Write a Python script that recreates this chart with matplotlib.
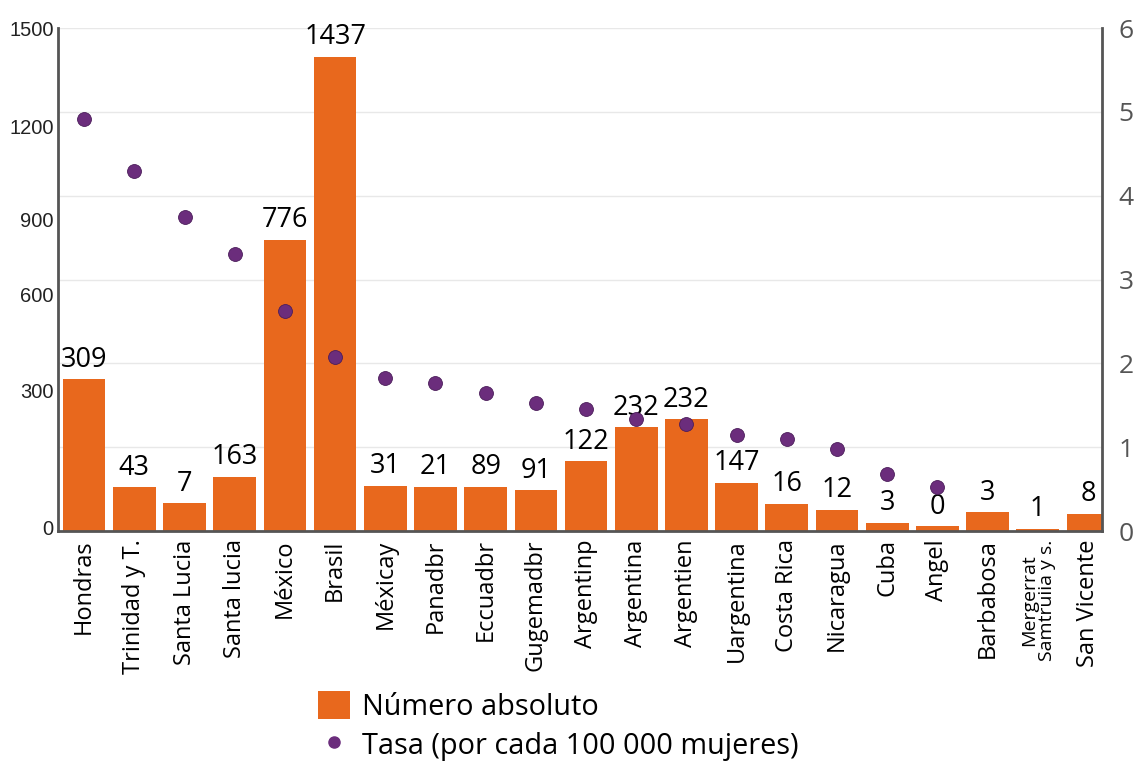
import numpy as np
import matplotlib
matplotlib.use("Agg")
import matplotlib.pyplot as plt
from matplotlib.patches import Patch
from matplotlib.lines import Line2D

plt.rcParams['font.family'] = ['Open Sans', 'DejaVu Sans']

paises = ["Hondras", "Trinidad y T.", "Santa Lucia", "Santa lucia", "México", "Brasil",
          "Méxicay", "Panadbr", "Eccuadbr", "Gugemadbr", "Argentinp", "Argentina",
          "Argentien", "Uargentina", "Costa Rica", "Nicaragua", "Cuba", "Angel",
          "Barbabosa", "Mergerrat\nSamtruiia y s.", "San Vicente"]
# bar heights as drawn (left axis), labels as printed
alturas = [452, 130, 83, 161, 868, 1414, 135, 132, 132, 122, 208, 309,
           333, 144, 81, 64, 25, 14, 56, 7, 52]
etiquetas = ["309", "43", "7", "163", "776", "1437", "31", "21", "89", "91", "122", "232",
             "232", "147", "16", "12", "3", "0", "3", "1", "8"]
tasa = [4.91, 4.29, 3.75, 3.31, 2.62, 2.08, 1.83, 1.77, 1.65, 1.53, 1.46, 1.34,
        1.28, 1.15, 1.10, 0.98, 0.68, 0.53, np.nan, np.nan, np.nan]
izq_pos = [10, 420, 705, 930, 1205, 1500]
izq_txt = ["0", "300", "600", "900", "1200", "1500"]

naranja = "#E8681D"
morado = "#6B2D7C"
gris = "#555555"

fig = plt.figure(figsize=(11.4, 7.61), dpi=100)
ax = fig.add_axes([0.0509, 0.3022, 0.9158, 0.661])
x = np.arange(len(paises))

for k in range(1, 7):
    ax.axhline(250 * k, color="#e8e8e8", lw=1, zorder=0)

ax.bar(x, alturas, width=0.85, color=naranja, zorder=2)
for xi, h, t in zip(x, alturas, etiquetas):
    ax.annotate(t, (xi, h), xytext=(0, 4), textcoords="offset points",
                ha="center", va="bottom", fontsize=19.5, color="black")

ax.set_xlim(-0.52, 20.28)
ax.set_ylim(0, 1500)
ax.set_yticks(izq_pos)
ax.set_yticklabels(izq_txt, family="Liberation Sans", fontsize=14.5, color="#222222")
ax.set_xticks(x)
ax.set_xticklabels(paises, rotation=90, fontsize=17, va="top", ha="center")
for lab in ax.get_xticklabels():
    if "\n" in lab.get_text():
        lab.set_fontsize(14)
        lab.set_linespacing(1.0)
ax.tick_params(length=0, pad=6)
ax.tick_params(axis="y", pad=3)
for s in ["top", "right"]:
    ax.spines[s].set_visible(False)
for s in ["left", "bottom"]:
    ax.spines[s].set_color(gris)
    ax.spines[s].set_linewidth(2)

ax2 = ax.twinx()
ax2.plot(x, tasa, "o", color=morado, markersize=10, markeredgecolor="#4b1d5a",
         markeredgewidth=0.6, zorder=3)
ax2.set_ylim(0, 6)
ax2.set_yticks(range(7))
ax2.tick_params(length=0, pad=12, labelsize=19, labelcolor=gris)
for s in ["top", "left", "bottom"]:
    ax2.spines[s].set_visible(False)
ax2.spines["right"].set_color(gris)
ax2.spines["right"].set_linewidth(2)

handles = [Patch(facecolor=naranja, edgecolor="none", label="Número absoluto"),
           Line2D([], [], marker="o", ls="none", color=morado, markersize=8,
                  label="Tasa (por cada 100 000 mujeres)")]
fig.legend(handles=handles, loc="upper left", bbox_to_anchor=(0.269, 0.107),
           frameon=False, fontsize=20.8, handlelength=1.1, handleheight=1.1,
           handletextpad=0.4, labelspacing=0.28, borderaxespad=0)

fig.savefig("out.png", dpi=100)
